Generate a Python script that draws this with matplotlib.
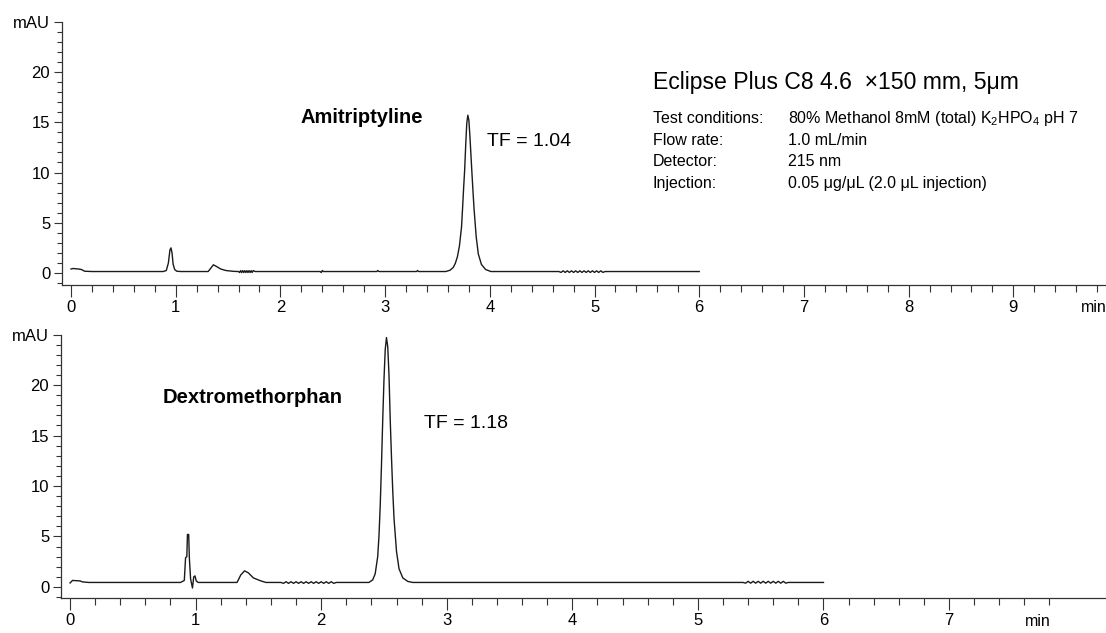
import matplotlib
matplotlib.use('Agg')
import matplotlib.pyplot as plt
from matplotlib.ticker import MultipleLocator

plt.rcParams['font.family'] = ['Liberation Sans Narrow', 'Liberation Sans', 'DejaVu Sans']
plt.rcParams['mathtext.fontset'] = 'custom'
plt.rcParams['mathtext.rm'] = 'Liberation Sans'

# ================================
# Data
# ================================
# Amitriptyline run (top panel): retention time (min) and absorbance (mAU)
ami_time = [0.0, 0.02, 0.07, 0.10, 0.13, 0.20, 0.88, 0.91, 0.93, 0.945, 0.955, 0.965,
            0.975, 0.99, 1.01, 1.05, 1.31, 1.34, 1.36, 1.39, 1.43, 1.48, 1.55, 1.60,
            1.61, 1.62, 1.63, 1.64, 1.65, 1.66, 1.67, 1.68, 1.69, 1.70, 1.71, 1.72,
            1.73, 1.74, 1.76, 2.38, 2.39, 2.40, 2.41, 2.92, 2.93, 2.94, 3.30, 3.31,
            3.32, 3.58, 3.62, 3.65, 3.67, 3.69, 3.71, 3.73, 3.74, 3.75, 3.76, 3.77,
            3.78, 3.79, 3.80, 3.81, 3.82, 3.83, 3.84, 3.85, 3.87, 3.89, 3.92, 3.96,
            4.01, 4.66, 4.68, 4.70, 4.72, 4.74, 4.76, 4.78, 4.80, 4.82, 4.84, 4.86,
            4.88, 4.90, 4.92, 4.94, 4.96, 4.98, 5.00, 5.02, 5.04, 5.06, 5.08, 5.10,
            6.0]
ami_mau = [0.40, 0.45, 0.40, 0.35, 0.18, 0.15, 0.15, 0.25, 1.0, 2.3, 2.5, 2.0,
           0.9, 0.35, 0.18, 0.15, 0.15, 0.55, 0.82, 0.65, 0.40, 0.25, 0.17, 0.15,
           0.05, 0.24, 0.05, 0.24, 0.05, 0.24, 0.05, 0.24, 0.05, 0.24, 0.05, 0.24,
           0.05, 0.24, 0.15, 0.15, 0.05, 0.25, 0.15, 0.15, 0.25, 0.15, 0.15, 0.25,
           0.15, 0.15, 0.28, 0.55, 0.95, 1.6, 2.7, 4.6, 6.5, 8.5, 10.3, 12.8,
           14.9, 15.7, 15.2, 13.6, 11.7, 9.8, 8.0, 6.3, 3.6, 1.9, 0.85, 0.35,
           0.15, 0.15, 0.06, 0.22, 0.06, 0.22, 0.06, 0.22, 0.06, 0.22, 0.06, 0.22,
           0.06, 0.22, 0.06, 0.22, 0.06, 0.22, 0.06, 0.22, 0.06, 0.22, 0.06, 0.15,
           0.15]

# Dextromethorphan run (bottom panel)
dex_time = [0.0, 0.02, 0.08, 0.10, 0.15, 0.88, 0.91, 0.92, 0.93, 0.935, 0.945, 0.95,
            0.96, 0.975, 0.985, 0.995, 1.005, 1.02, 1.33, 1.36, 1.39, 1.42, 1.46, 1.52,
            1.56, 1.68, 1.70, 1.72, 1.74, 1.76, 1.78, 1.80, 1.82, 1.84, 1.86, 1.88,
            1.90, 1.92, 1.94, 1.96, 1.98, 2.00, 2.02, 2.04, 2.06, 2.08, 2.10, 2.12,
            2.38, 2.41, 2.43, 2.45, 2.46, 2.47, 2.48, 2.49, 2.50, 2.51, 2.52, 2.53,
            2.54, 2.55, 2.56, 2.57, 2.58, 2.60, 2.62, 2.65, 2.69, 2.73, 5.36, 5.38,
            5.40, 5.42, 5.44, 5.46, 5.48, 5.50, 5.52, 5.54, 5.56, 5.58, 5.60, 5.62,
            5.64, 5.66, 5.68, 5.70, 5.72, 6.0]
dex_mau = [0.40, 0.65, 0.60, 0.50, 0.45, 0.45, 0.65, 2.9, 3.0, 5.2, 5.2, 2.9,
           0.8, -0.1, 1.0, 1.1, 0.6, 0.45, 0.45, 1.2, 1.6, 1.4, 0.9, 0.6,
           0.45, 0.45, 0.36, 0.52, 0.36, 0.52, 0.36, 0.52, 0.36, 0.52, 0.36, 0.52,
           0.36, 0.52, 0.36, 0.52, 0.36, 0.52, 0.36, 0.52, 0.36, 0.52, 0.36, 0.45,
           0.45, 0.7, 1.3, 3.0, 5.0, 8.0, 12.0, 16.5, 20.5, 23.5, 24.7, 23.8,
           21.0, 16.5, 12.8, 9.5, 6.8, 3.5, 1.8, 0.9, 0.55, 0.45, 0.45, 0.38,
           0.56, 0.38, 0.56, 0.38, 0.56, 0.38, 0.56, 0.38, 0.56, 0.38, 0.56, 0.38,
           0.56, 0.38, 0.56, 0.38, 0.45, 0.45]

y_ticks = [0, 5, 10, 15, 20, 25]
y_tick_labels = ['0', '5', '10', '15', '20', 'mAU']

ink = '#1a1a1a'
W, H = 1106, 633


def make_axes(fig, left_px, top_px, bottom_px, xlim, ylim, n_major, minor_end):
    ax = fig.add_axes([left_px / W, 1 - bottom_px / H, (W - left_px) / W,
                       (bottom_px - top_px) / H])
    ax.set_xlim(*xlim)
    ax.set_ylim(*ylim)
    for side in ('top', 'right'):
        ax.spines[side].set_visible(False)
    for side in ('left', 'bottom'):
        ax.spines[side].set_color('#333333')
        ax.spines[side].set_linewidth(0.9)
    ax.spines['left'].set_bounds(ylim[0], 25)
    ax.spines['bottom'].set_bounds(xlim[0], xlim[1])

    ax.set_xticks(range(n_major + 1))
    ax.set_xticks([i * 0.2 for i in range(int(round(minor_end / 0.2)) + 1)], minor=True)
    ax.set_yticks(y_ticks, y_tick_labels)
    ax.yaxis.set_minor_locator(MultipleLocator(1))

    ax.tick_params(axis='x', which='major', direction='out', length=8.5, width=0.8,
                   color='#333333', pad=2, labelsize=12)
    ax.tick_params(axis='x', which='minor', direction='out', length=5, width=0.8,
                   color='#333333')
    ax.tick_params(axis='y', which='major', direction='out', length=6, width=0.8,
                   color='#333333', pad=2.5, labelsize=12)
    ax.tick_params(axis='y', which='minor', direction='out', length=3.5, width=0.8,
                   color='#333333')
    ax.patch.set_alpha(0)
    return ax


fig = plt.figure(figsize=(W / 100, H / 100), dpi=100)

# ---- top: Amitriptyline
ax1 = make_axes(fig, 62, 21, 285, (-0.086, 9.885), (-1.19, 25.07), 9, 9.8)
ax1.plot(ami_time, ami_mau, color=ink, lw=1.0)
ax1.annotate('min', xy=(9.77, 0), xycoords=('data', 'axes fraction'),
             xytext=(0, -23), textcoords='offset pixels', ha='center', va='center',
             fontsize=11.5)
ax1.text(2.78, 15.5, 'Amitriptyline', fontsize=14.5, fontweight='bold',
         ha='center', va='center')
ax1.text(3.97, 13.1, 'TF = 1.04', fontsize=14, ha='left', va='center')

# ---- bottom: Dextromethorphan
ax2 = make_axes(fig, 61, 333, 598, (-0.072, 8.25), (-1.09, 25.15), 7, 7.8)
ax2.plot(dex_time, dex_mau, color=ink, lw=1.0)
ax2.annotate('min', xy=(7.71, 0), xycoords=('data', 'axes fraction'),
             xytext=(0, -23), textcoords='offset pixels', ha='center', va='center',
             fontsize=11.5)
ax2.text(1.457, 18.8, 'Dextromethorphan', fontsize=14.5, fontweight='bold',
         ha='center', va='center')
ax2.text(2.82, 16.2, 'TF = 1.18', fontsize=14, ha='left', va='center')

# ---- column / method block
fig.text(653 / W, 1 - 82 / H, 'Eclipse Plus C8 4.6  \u00d7150 mm, 5\u03bcm',
         fontsize=16.6, ha='left', va='center')
cond_keys = ['Test conditions:', 'Flow rate:', 'Detector:', 'Injection:']
cond_vals = [r'80% Methanol 8mM (total) K$_\mathregular{2}$HPO$_\mathregular{4}$ pH 7',
             '1.0 mL/min', '215 nm', '0.05 \u03bcg/\u03bcL (2.0 \u03bcL injection)']
for i, (k, v) in enumerate(zip(cond_keys, cond_vals)):
    y = 1 - (118.5 + 21.7 * i) / H
    fig.text(653 / W, y, k, fontsize=11.5, ha='left', va='center')
    fig.text(788 / W, y, v, fontsize=11.5, ha='left', va='center')

fig.savefig('out.png', dpi=100)
